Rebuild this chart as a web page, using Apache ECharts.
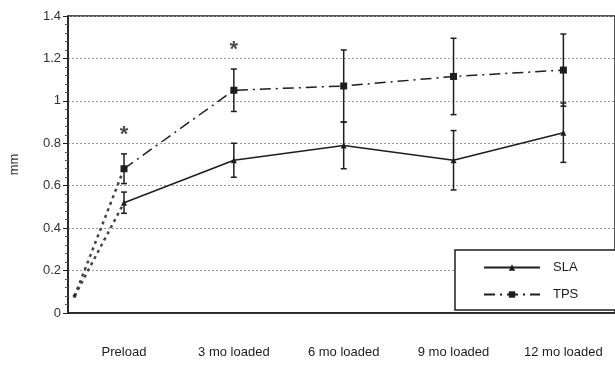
<!DOCTYPE html>
<html><head><meta charset="utf-8">
<script src="https://cdn.jsdelivr.net/npm/echarts@6/dist/echarts.min.js"></script>
<style>html,body{margin:0;padding:0;background:#fff}#c{width:615px;height:366px}</style>
</head><body><div id="c"></div>
<script>
const categories = ['Preload', '3 mo loaded', '6 mo loaded', '9 mo loaded', '12 mo loaded'];
const catPos = [0, 1, 2, 3, 4];
const slaMean = [0.52, 0.72, 0.79, 0.72, 0.85];
const slaErr = [0.05, 0.08, 0.11, 0.14, 0.14];
const tpsMean = [0.68, 1.05, 1.07, 1.115, 1.145];
const tpsErr = [0.07, 0.10, 0.17, 0.18, 0.17];
const startPos = -0.45;
const startValue = 0.08;
const starPos = [0, 1];
const starValue = [0.84, 1.24];

const FONT = 'Liberation Sans';
const INK = '#1e1e1e';

function errData(mean, err) {
  return catPos.map((x, i) => [x, mean[i] - err[i], mean[i] + err[i]]);
}
function renderErr(params, api) {
  const x = api.value(0);
  const lo = api.coord([x, api.value(1)]);
  const hi = api.coord([x, api.value(2)]);
  const w = 3;
  const st = { stroke: INK, lineWidth: 1.5 };
  return { type: 'group', children: [
    { type: 'line', shape: { x1: lo[0], y1: lo[1], x2: hi[0], y2: hi[1] }, style: st },
    { type: 'line', shape: { x1: lo[0] - w, y1: lo[1], x2: lo[0] + w, y2: lo[1] }, style: st },
    { type: 'line', shape: { x1: hi[0] - w, y1: hi[1], x2: hi[0] + w, y2: hi[1] }, style: st }
  ]};
}

const chart = echarts.init(document.getElementById('c'), null, { renderer: 'canvas' });
chart.setOption({
  animation: false,
  backgroundColor: '#fff',
  grid: { left: 65, top: 16, right: -3, bottom: 53, show: true, borderColor: INK, borderWidth: 1.5, backgroundColor: 'transparent' },
  xAxis: {
    type: 'value', min: -0.51, max: 4.47,
    axisLine: { show: true, onZero: false, lineStyle: { color: INK, width: 1.5 } },
    axisTick: { show: false },
    splitLine: { show: false },
    axisLabel: {
      customValues: catPos,
      formatter: v => categories[Math.round(v)] || '',
      margin: 33, fontFamily: FONT, fontSize: 13, color: INK
    }
  },
  yAxis: {
    type: 'value', min: 0, max: 1.4, interval: 0.2,
    name: 'mm', nameLocation: 'middle', nameGap: 47, nameRotate: 90,
    nameTextStyle: { fontFamily: FONT, fontSize: 13, color: '#333' },
    axisLine: { show: true, onZero: false, lineStyle: { color: INK, width: 1.5 } },
    axisTick: { show: true, length: 5, lineStyle: { color: INK } },
    minorTick: { show: true, splitNumber: 5, length: 3, lineStyle: { color: '#555' } },
    splitLine: { show: true, lineStyle: { color: '#999', type: [2, 2], width: 1 } },
    axisLabel: { margin: 7, fontFamily: FONT, fontSize: 13, color: '#333',
      formatter: v => String(+v.toFixed(1)) }
  },
  legend: {
    left: 455, top: 250, orient: 'vertical',
    padding: [11, 80, 9, 28], itemGap: 14, itemWidth: 56, itemHeight: 8,
    backgroundColor: '#fff', borderColor: INK, borderWidth: 1.5,
    textStyle: { fontFamily: FONT, fontSize: 13, color: INK, padding: [0, 0, 0, 8] },
    data: ['SLA', 'TPS']
  },
  series: [
    { name: 'start-sla', type: 'line', data: [[startPos, startValue], [catPos[0], slaMean[0]]],
      symbol: 'none', lineStyle: { color: '#444', width: 2.5, type: [3, 4] }, silent: true, z: 1 },
    { name: 'start-tps', type: 'line', data: [[startPos, startValue], [catPos[0], tpsMean[0]]],
      symbol: 'none', lineStyle: { color: '#444', width: 2.5, type: [3, 4] }, silent: true, z: 1 },
    { name: 'start', type: 'scatter', data: [[startPos, startValue]], symbol: 'circle', symbolSize: 4,
      itemStyle: { color: INK }, z: 3 },
    { name: 'SLA', type: 'line', data: catPos.map((x, i) => [x, slaMean[i]]),
      symbol: 'triangle', symbolSize: 6, itemStyle: { color: INK },
      lineStyle: { color: INK, width: 1.5 }, z: 3 },
    { name: 'TPS', type: 'line', data: catPos.map((x, i) => [x, tpsMean[i]]),
      symbol: 'rect', symbolSize: 7, itemStyle: { color: INK },
      lineStyle: { color: INK, width: 1.5, type: [11, 5, 2, 5] }, z: 3 },
    { name: 'sla-err', type: 'custom', data: errData(slaMean, slaErr), renderItem: renderErr,
      encode: { x: 0, y: [1, 2] }, z: 4 },
    { name: 'tps-err', type: 'custom', data: errData(tpsMean, tpsErr), renderItem: renderErr,
      encode: { x: 0, y: [1, 2] }, z: 4 },
    { name: 'stars', type: 'scatter', data: starPos.map((x, i) => [x, starValue[i]]),
      symbol: 'circle', symbolSize: 1, itemStyle: { color: 'rgba(0,0,0,0)' },
      label: { show: true, formatter: '*', position: 'inside',
        fontFamily: FONT, fontSize: 22, fontWeight: 'bold', color: INK }, z: 5 }
  ]
});
</script></body></html>
